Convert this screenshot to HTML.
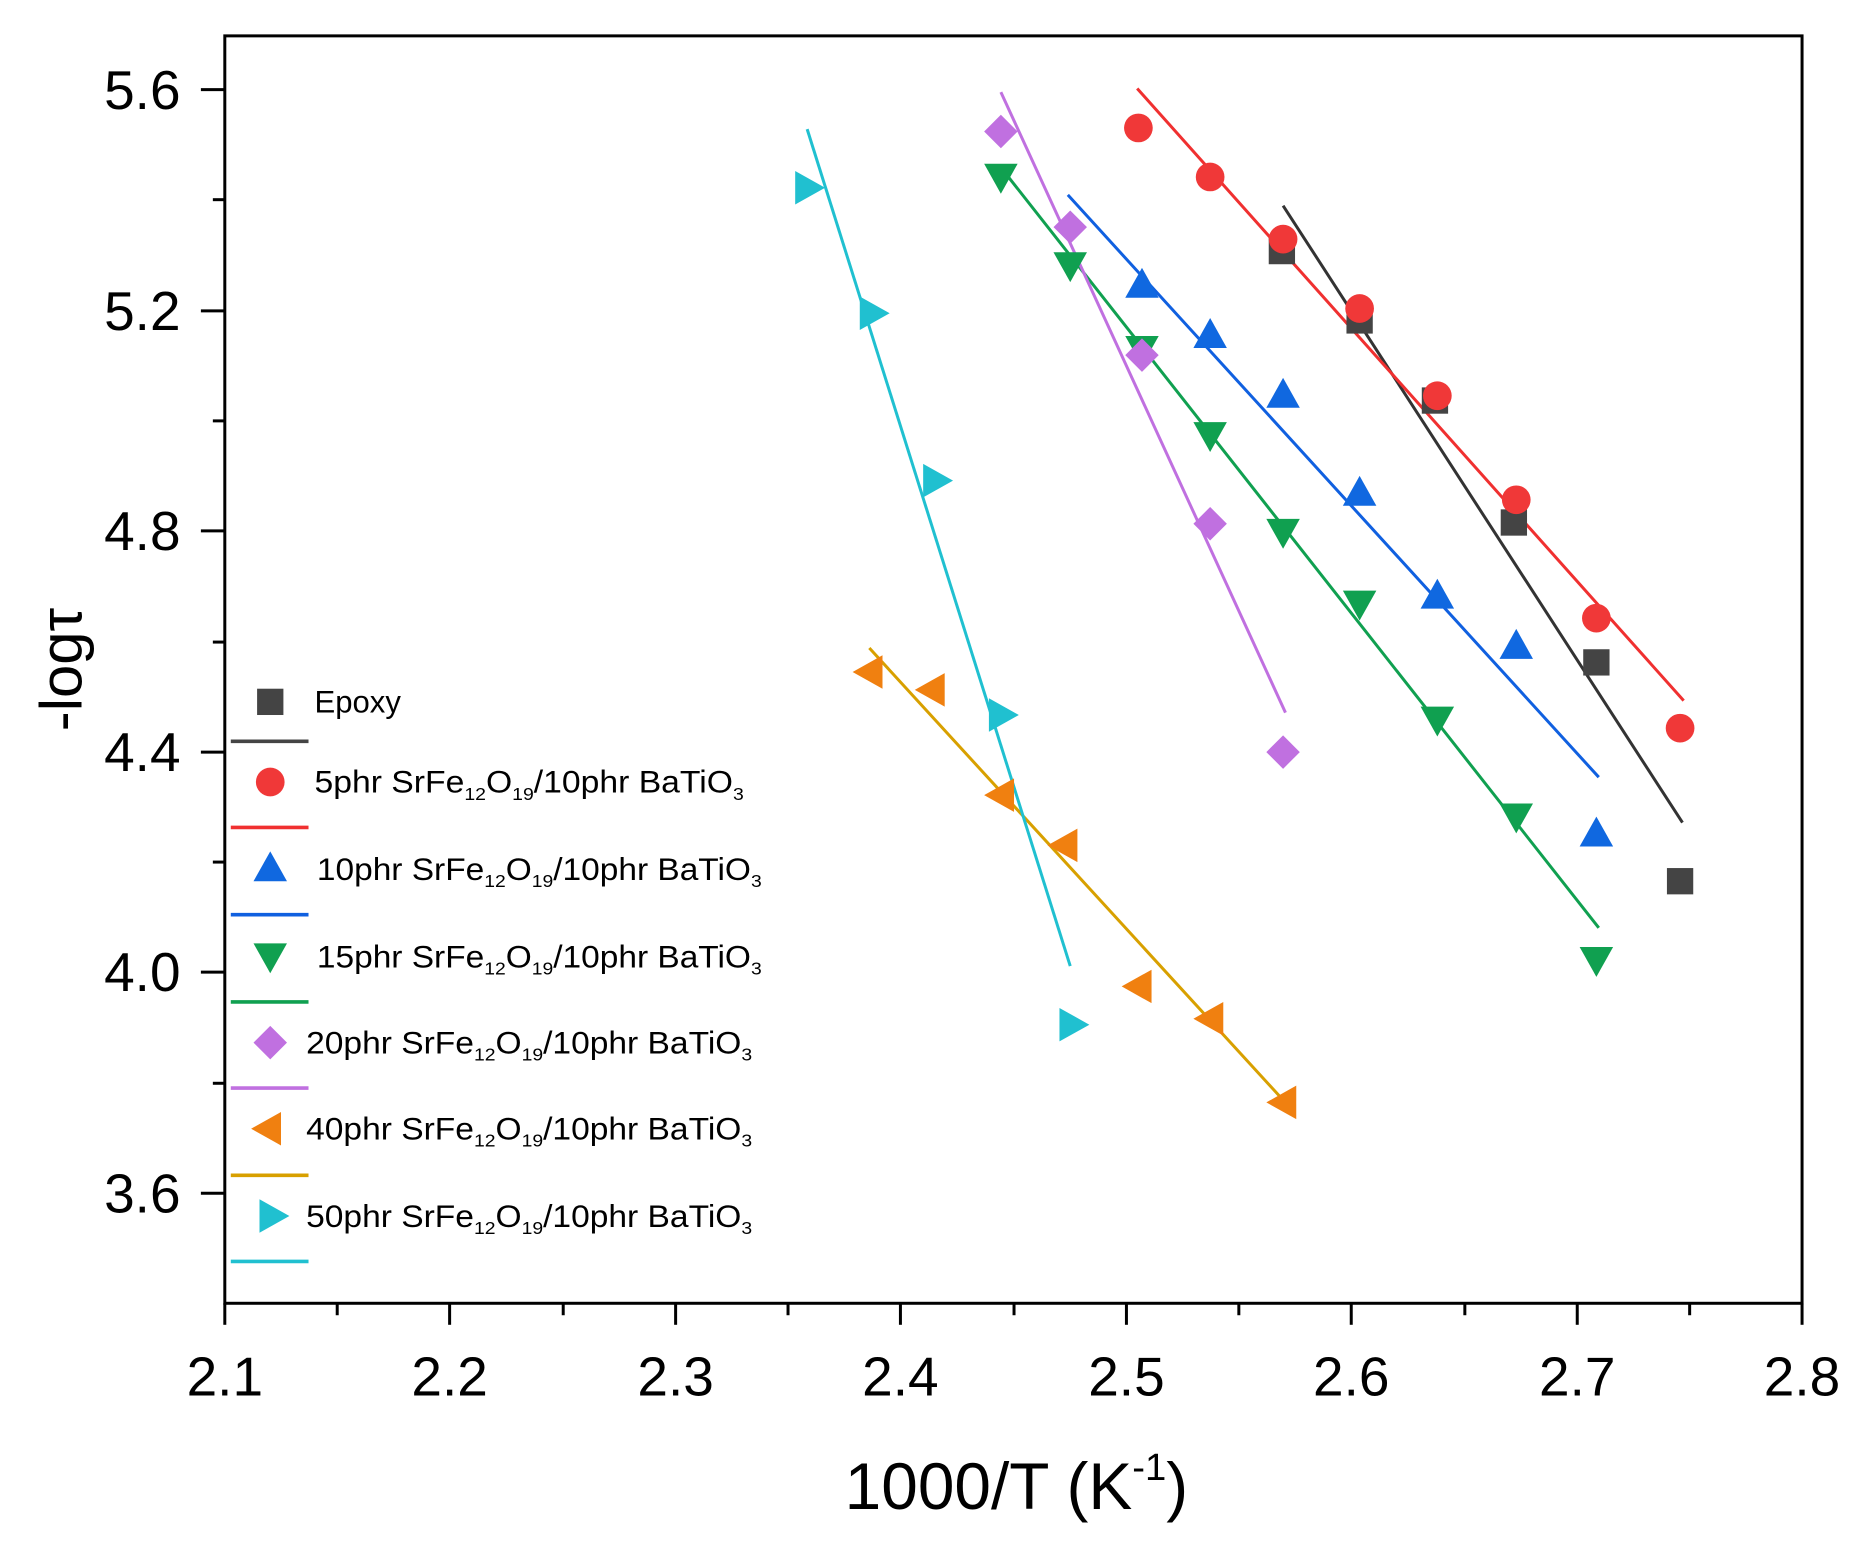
<!DOCTYPE html>
<html><head><meta charset="utf-8"><style>html,body{margin:0;padding:0;background:#fff}svg{display:block}</style></head>
<body>
<svg width="1875" height="1546" viewBox="0 0 1568 1293" preserveAspectRatio="none" xmlns="http://www.w3.org/2000/svg" font-family="Liberation Sans, Arial, sans-serif">
<rect width="1568" height="1293" fill="#fff"/>
<rect x="188" y="30" width="1319" height="1060" fill="none" stroke="#000" stroke-width="2.5"/>
<g stroke="#000" stroke-width="2.5">
<line x1="168" y1="75" x2="188" y2="75"/><line x1="178" y1="167" x2="188" y2="167"/>
<line x1="168" y1="260" x2="188" y2="260"/><line x1="178" y1="352" x2="188" y2="352"/>
<line x1="168" y1="444" x2="188" y2="444"/><line x1="178" y1="537" x2="188" y2="537"/>
<line x1="168" y1="629" x2="188" y2="629"/><line x1="178" y1="721" x2="188" y2="721"/>
<line x1="168" y1="813" x2="188" y2="813"/><line x1="178" y1="906" x2="188" y2="906"/>
<line x1="168" y1="998" x2="188" y2="998"/>
<line x1="188" y1="1090" x2="188" y2="1108"/><line x1="282" y1="1090" x2="282" y2="1100"/>
<line x1="376" y1="1090" x2="376" y2="1108"/><line x1="471" y1="1090" x2="471" y2="1100"/>
<line x1="565" y1="1090" x2="565" y2="1108"/><line x1="659" y1="1090" x2="659" y2="1100"/>
<line x1="753" y1="1090" x2="753" y2="1108"/><line x1="848" y1="1090" x2="848" y2="1100"/>
<line x1="942" y1="1090" x2="942" y2="1108"/><line x1="1036" y1="1090" x2="1036" y2="1100"/>
<line x1="1130" y1="1090" x2="1130" y2="1108"/><line x1="1225" y1="1090" x2="1225" y2="1100"/>
<line x1="1319" y1="1090" x2="1319" y2="1108"/><line x1="1413" y1="1090" x2="1413" y2="1100"/>
<line x1="1507" y1="1090" x2="1507" y2="1108"/>
</g>
<g font-size="46" text-anchor="end" fill="#000">
<text x="151" y="91">5.6</text><text x="151" y="276">5.2</text><text x="151" y="460">4.8</text>
<text x="151" y="645">4.4</text><text x="151" y="829">4.0</text><text x="151" y="1014">3.6</text>
</g>
<g font-size="46" text-anchor="middle" fill="#000">
<text x="188" y="1167">2.1</text><text x="376" y="1167">2.2</text><text x="565" y="1167">2.3</text>
<text x="753" y="1167">2.4</text><text x="942" y="1167">2.5</text><text x="1130" y="1167">2.6</text>
<text x="1319" y="1167">2.7</text><text x="1507" y="1167">2.8</text>
</g>
<text x="850" y="1262" font-size="55" text-anchor="middle">1000/T (K<tspan font-size="32" dy="-24">-1</tspan><tspan dy="24">)</tspan></text>
<text transform="translate(68,560) rotate(-90)" font-size="50" text-anchor="middle">-logτ</text>
<g stroke-width="2.5">
<line x1="1073" y1="172" x2="1407" y2="688" stroke="#333"/>
<line x1="951" y1="74" x2="1408" y2="586" stroke="#f03030"/>
<line x1="893" y1="163" x2="1337" y2="650" stroke="#1060e0"/>
<line x1="837" y1="140" x2="1337" y2="776" stroke="#10a050"/>
<line x1="837" y1="77" x2="1075" y2="596" stroke="#c070e0"/>
<line x1="727" y1="542" x2="1073" y2="920" stroke="#d8a000"/>
<line x1="675" y1="108" x2="895" y2="808" stroke="#20c0d0"/>
</g>
<defs>
<rect id="sq" x="-11" y="-11" width="22" height="22" fill="#444"/>
<circle id="ci" r="12" fill="#f03838"/>
<polygon id="tu" points="0,-14 14,11 -14,11" fill="#1068e0"/>
<polygon id="td" points="0,14 14,-11 -14,-11" fill="#10a050"/>
<polygon id="di" points="0,-14 14,0 0,14 -14,0" fill="#c070e0"/>
<polygon id="tl" points="-14,0 11,-14 11,14" fill="#f08010"/>
<polygon id="tr" points="14,0 -11,-14 -11,14" fill="#20c0d0"/>
</defs>
<g>
<use href="#sq" x="1072" y="210"/><use href="#sq" x="1137" y="268"/><use href="#sq" x="1200" y="335"/><use href="#sq" x="1266" y="437"/><use href="#sq" x="1335" y="554"/><use href="#sq" x="1405" y="737"/>
<use href="#ci" x="952" y="107"/><use href="#ci" x="1012" y="148"/><use href="#ci" x="1073" y="200"/><use href="#ci" x="1137" y="258"/><use href="#ci" x="1202" y="331"/><use href="#ci" x="1268" y="418"/><use href="#ci" x="1335" y="517"/><use href="#ci" x="1405" y="609"/>
<use href="#tu" x="955" y="238"/><use href="#tu" x="1012" y="280"/><use href="#tu" x="1073" y="330"/><use href="#tu" x="1137" y="412"/><use href="#tu" x="1202" y="498"/><use href="#tu" x="1268" y="540"/><use href="#tu" x="1335" y="697"/>
<use href="#td" x="837" y="148"/><use href="#td" x="895" y="222"/><use href="#td" x="955" y="292"/><use href="#td" x="1012" y="364"/><use href="#td" x="1073" y="445"/><use href="#td" x="1137" y="505"/><use href="#td" x="1202" y="602"/><use href="#td" x="1268" y="683"/><use href="#td" x="1335" y="803"/>
<use href="#di" x="837" y="110"/><use href="#di" x="895" y="190"/><use href="#di" x="955" y="297"/><use href="#di" x="1012" y="438"/><use href="#di" x="1073" y="629"/>
<use href="#tl" x="727" y="562"/><use href="#tl" x="779" y="577"/><use href="#tl" x="837" y="665"/><use href="#tl" x="890" y="707"/><use href="#tl" x="952" y="825"/><use href="#tl" x="1012" y="852"/><use href="#tl" x="1073" y="922"/>
<use href="#tr" x="676" y="157"/><use href="#tr" x="730" y="262"/><use href="#tr" x="783" y="402"/><use href="#tr" x="838" y="598"/><use href="#tr" x="897" y="857"/>
</g>
<g stroke-width="3">
<line x1="193" y1="620" x2="258" y2="620" stroke="#444"/>
<line x1="193" y1="692" x2="258" y2="692" stroke="#f03030"/>
<line x1="193" y1="765" x2="258" y2="765" stroke="#1060e0"/>
<line x1="193" y1="838" x2="258" y2="838" stroke="#10a050"/>
<line x1="193" y1="910" x2="258" y2="910" stroke="#c070e0"/>
<line x1="193" y1="983" x2="258" y2="983" stroke="#d8a000"/>
<line x1="193" y1="1055" x2="258" y2="1055" stroke="#20c0d0"/>
</g>
<use href="#sq" x="226" y="587"/><use href="#ci" x="226" y="654"/><use href="#tu" x="226" y="726"/><use href="#td" x="226" y="800"/><use href="#di" x="226" y="872"/><use href="#tl" x="224" y="944"/><use href="#tr" x="228" y="1017"/>
<g font-size="26" fill="#000">
<text x="263" y="596">Epoxy</text>
<text x="263" y="663" textLength="359" lengthAdjust="spacingAndGlyphs">5phr SrFe<tspan font-size="15" dy="6">12</tspan><tspan dy="-6">O</tspan><tspan font-size="15" dy="6">19</tspan><tspan dy="-6">/10phr BaTiO</tspan><tspan font-size="15" dy="6">3</tspan></text>
<text x="265" y="736" textLength="372" lengthAdjust="spacingAndGlyphs">10phr SrFe<tspan font-size="15" dy="6">12</tspan><tspan dy="-6">O</tspan><tspan font-size="15" dy="6">19</tspan><tspan dy="-6">/10phr BaTiO</tspan><tspan font-size="15" dy="6">3</tspan></text>
<text x="265" y="809" textLength="372" lengthAdjust="spacingAndGlyphs">15phr SrFe<tspan font-size="15" dy="6">12</tspan><tspan dy="-6">O</tspan><tspan font-size="15" dy="6">19</tspan><tspan dy="-6">/10phr BaTiO</tspan><tspan font-size="15" dy="6">3</tspan></text>
<text x="256" y="881" textLength="373" lengthAdjust="spacingAndGlyphs">20phr SrFe<tspan font-size="15" dy="6">12</tspan><tspan dy="-6">O</tspan><tspan font-size="15" dy="6">19</tspan><tspan dy="-6">/10phr BaTiO</tspan><tspan font-size="15" dy="6">3</tspan></text>
<text x="256" y="953" textLength="373" lengthAdjust="spacingAndGlyphs">40phr SrFe<tspan font-size="15" dy="6">12</tspan><tspan dy="-6">O</tspan><tspan font-size="15" dy="6">19</tspan><tspan dy="-6">/10phr BaTiO</tspan><tspan font-size="15" dy="6">3</tspan></text>
<text x="256" y="1026" textLength="373" lengthAdjust="spacingAndGlyphs">50phr SrFe<tspan font-size="15" dy="6">12</tspan><tspan dy="-6">O</tspan><tspan font-size="15" dy="6">19</tspan><tspan dy="-6">/10phr BaTiO</tspan><tspan font-size="15" dy="6">3</tspan></text>
</g>
</svg>
</body></html>
